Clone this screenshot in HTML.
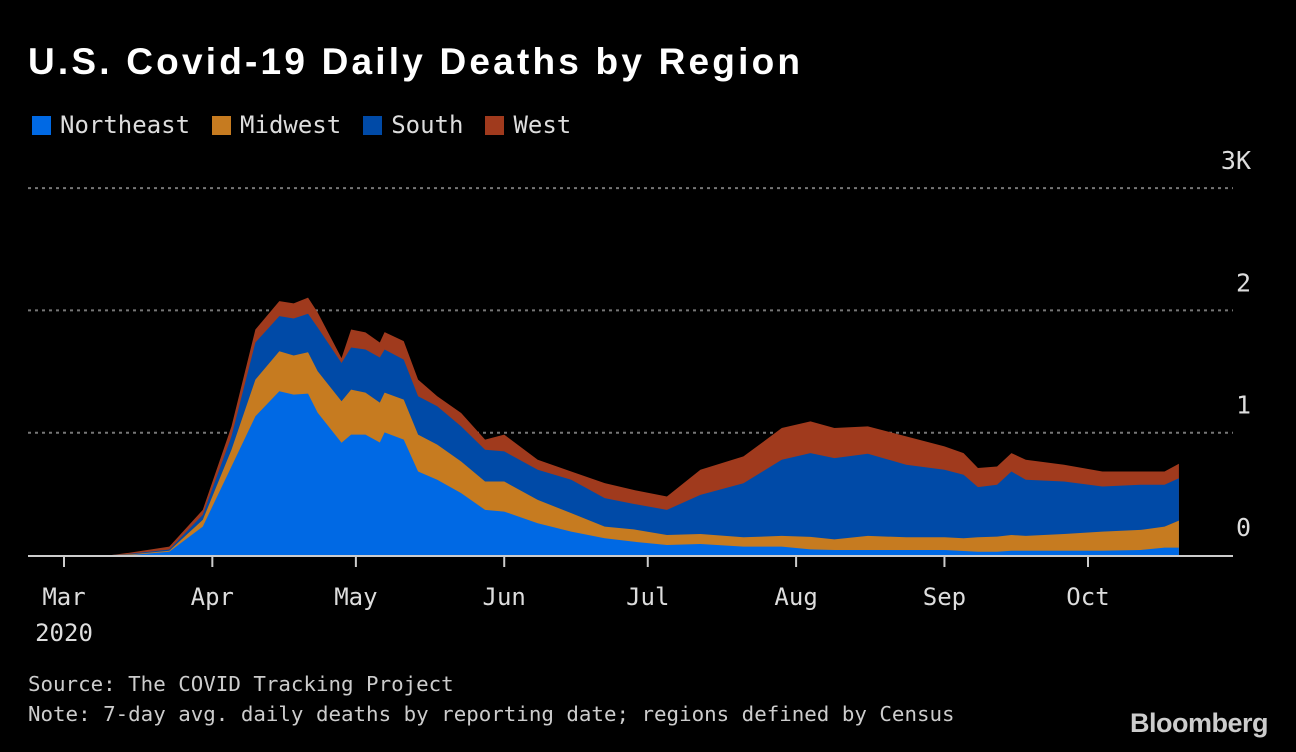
<!DOCTYPE html>
<html><head><meta charset="utf-8">
<style>
html,body{margin:0;padding:0;background:#000;}
body{width:1296px;height:752px;overflow:hidden;position:relative;font-family:"DejaVu Sans Mono","Liberation Mono",monospace;color:#ddd;}
#title{position:absolute;left:28px;top:41px;font-family:"Liberation Sans",sans-serif;font-size:37px;font-weight:bold;color:#fff;letter-spacing:3.2px;}
#legend{position:absolute;left:32px;top:111px;font-size:24px;color:#ddd;display:flex;}
.le{display:flex;align-items:center;margin-right:22px;}
.sw{width:19px;height:19px;margin-right:9px;}
.foot{position:absolute;left:28px;font-size:20.8px;color:#ccc;}
#logo{position:absolute;right:28px;top:708px;font-family:"Liberation Sans",sans-serif;font-size:27px;font-weight:bold;color:#ccc;letter-spacing:-0.5px;}
</style></head>
<body>
<div id="title">U.S. Covid-19 Daily Deaths by Region</div>
<div id="legend">
 <div class="le"><div class="sw" style="background:#0069e4"></div>Northeast</div>
 <div class="le"><div class="sw" style="background:#c67b20"></div>Midwest</div>
 <div class="le"><div class="sw" style="background:#004aa7"></div>South</div>
 <div class="le"><div class="sw" style="background:#a03a1d"></div>West</div>
</div>
<svg id="chart" width="1296" height="752" style="position:absolute;left:0;top:0"></svg>
<div class="foot" style="top:672px">Source: The COVID Tracking Project</div>
<div class="foot" style="top:702px">Note: 7-day avg. daily deaths by reporting date; regions defined by Census</div>
<div id="logo">Bloomberg</div>
<script>
// day index from Mar 1, 2020
const days = [10,14,22,29,35,40,45,48,51,53,58,60,63,66,67,71,74,78,83,88,92,99,106,113,119,126,133,142,150,156,161,168,176,184,188,191,195,198,201,209,217,225,230,233];
const northeast = [0,0,27,232,724,1134,1339,1311,1320,1164,918,984,984,920,1003,943,683,615,506,369,355,260,191,137,109,82,90,68,68,46,41,41,41,41,33,27,27,35,35,35,35,41,60,60];
const midwest = [0,5,8,55,137,300,327,320,338,339,339,368,344,326,325,327,301,287,259,232,246,191,151,95,101,82,82,77,88,102,87,115,104,104,104,118,123,129,121,137,156,164,172,221];
const south = [0,5,10,41,109,304,287,303,315,358,313,345,352,369,352,328,314,314,287,260,246,246,273,233,208,205,320,442,623,685,664,672,593,552,519,410,424,519,459,429,369,369,342,347];
const west = [0,10,23,41,82,106,123,123,131,123,40,147,140,123,142,151,136,82,109,82,137,82,68,123,114,109,205,219,259,260,246,224,232,191,177,156,150,150,164,137,123,109,109,118];
const yTicks = [0,1000,2000,3000];
const yTickLabels = ["0","1","2","3K"];
const monthDays = [0,31,61,92,122,153,184,214];
const monthLabels = ["Mar","Apr","May","Jun","Jul","Aug","Sep","Oct"];

const NS="http://www.w3.org/2000/svg";
const svg=document.getElementById('chart');
const FONT='DejaVu Sans Mono, Liberation Mono, monospace';
const X0=64, PX_PER_DAY=4.785, Y0=555, PX_PER_UNIT=0.1223;
const xs=d=>X0+d*PX_PER_DAY;
const ys=v=>Y0-v*PX_PER_UNIT;
function mk(tag,attrs){const e=document.createElementNS(NS,tag);for(const k in attrs)e.setAttribute(k,attrs[k]);svg.appendChild(e);return e;}

yTicks.forEach((t,i)=>{
  if(t>0){
    const g=mk('line',{x1:28,x2:1233,y1:ys(t),y2:ys(t),stroke:'#777','stroke-width':2,'stroke-dasharray':'3,4'});
    
    
  }
  const lb=mk('text',{x:1251,y:ys(t)-19,'text-anchor':'end',fill:'#ddd','font-size':25,'font-family':FONT});
  lb.textContent=yTickLabels[i];
  
  
});

const series=[["northeast",northeast,"#0069e4"],["midwest",midwest,"#c67b20"],["south",south,"#004aa7"],["west",west,"#a03a1d"]];
const cum=days.map(()=>0);
const layers=[];
series.forEach(([name,vals,col])=>{
  const lower=cum.slice();
  vals.forEach((v,i)=>cum[i]+=v);
  const upper=cum.slice();
  layers.push([name,lower,upper,col]);
});
layers.reverse().forEach(([name,lower,upper,col])=>{
  let d='M'+xs(days[0])+','+ys(upper[0]);
  for(let i=1;i<days.length;i++) d+=' L'+xs(days[i])+','+ys(upper[i]);
  for(let i=days.length-1;i>=0;i--) d+=' L'+xs(days[i])+','+ys(0);
  d+=' Z';
  const p=mk('path',{d:d,fill:col});
  
  
});

const ax=mk('line',{x1:28,x2:1233,y1:Y0+1,y2:Y0+1,stroke:'#ccc','stroke-width':2});


monthDays.forEach((d,i)=>{
  const t=mk('line',{x1:xs(d),x2:xs(d),y1:Y0+2,y2:Y0+12,stroke:'#ccc','stroke-width':2});
  
  
  const l=mk('text',{x:xs(d),y:605,'text-anchor':'middle',fill:'#ddd','font-size':24,'font-family':FONT});
  l.textContent=monthLabels[i];
  
  
});
const yr=mk('text',{x:xs(0),y:641,'text-anchor':'middle',fill:'#ddd','font-size':24,'font-family':FONT});
yr.textContent='2020';


</script>
</body></html>
